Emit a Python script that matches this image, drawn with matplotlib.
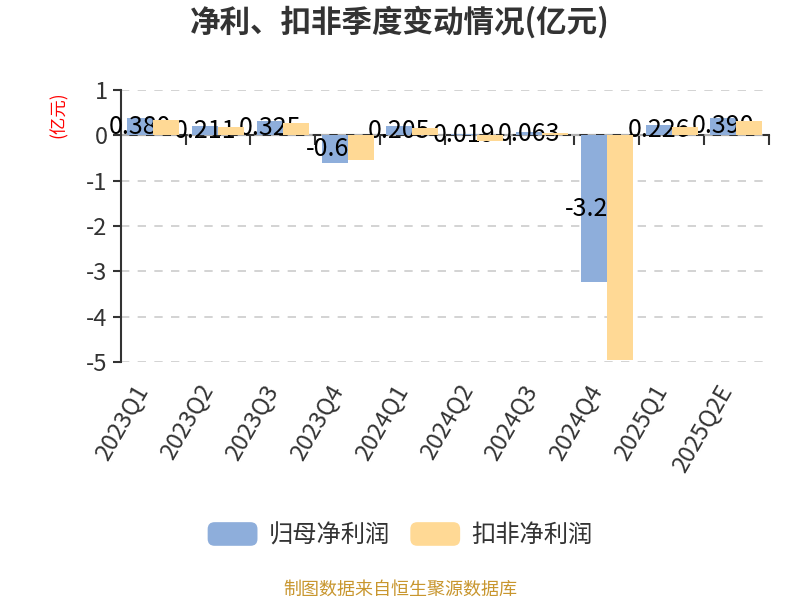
import matplotlib
matplotlib.use("Agg")
import matplotlib.pyplot as plt
import matplotlib.transforms as mtransforms
import numpy as np
from matplotlib.patches import FancyBboxPatch, Rectangle
from matplotlib.legend_handler import HandlerPatch

plt.rcParams['font.family'] = ['Noto Sans CJK SC', 'DejaVu Sans']
plt.rcParams['axes.unicode_minus'] = False

quarters = ['2023Q1', '2023Q2', '2023Q3', '2023Q4', '2024Q1',
            '2024Q2', '2024Q3', '2024Q4', '2025Q1', '2025Q2E']
net_profit = [0.380, 0.211, 0.325, -0.61, 0.205, 0.019, 0.063, -3.24, 0.226, 0.390]
net_labels = ['0.380', '0.211', '0.325', '-0.61', '0.205', '0.019', '0.063', '-3.24', '0.226', '0.390']
deducted_profit = [0.33, 0.18, 0.28, -0.54, 0.17, -0.13, 0.06, -4.95, 0.18, 0.32]

blue = '#8eaedb'
orange = '#ffd995'
dark = '#333333'

fig = plt.figure(figsize=(8, 6), dpi=100)
ax = fig.add_axes([0.151, 0.397, 0.81, 0.453])

x = np.arange(len(quarters))
w = 0.4
b1 = ax.bar(x - w / 2, net_profit, w, color=blue, zorder=2)
for xi, v, s in zip(x, net_profit, net_labels):
    ax.text(xi - w / 2, v / 2, s, ha='center', va='center', fontsize=18,
            color='black', zorder=3)
b2 = ax.bar(x + w / 2, deducted_profit, w, color=orange, zorder=4)

ax.set_xlim(-0.5, len(quarters) - 0.5)
ax.set_ylim(-5, 1)
ax.set_yticks(range(-5, 2))
ax.yaxis.grid(True, linestyle=(0, (5, 5)), color='#cccccc', linewidth=1.2, zorder=0)
ax.tick_params(axis='y', labelsize=17, labelcolor=dark, color=dark, length=6, width=1.5)

# category labels at the bottom, no tick marks
ax.set_xticks(x)
ax.set_xticklabels(quarters, rotation=60, ha='right', va='top',
                   rotation_mode='anchor', fontsize=17, color=dark)
ax.tick_params(axis='x', length=0, pad=12)
shift = mtransforms.ScaledTranslation(-20 / 100, -2 / 100, fig.dpi_scale_trans)
for lab in ax.get_xticklabels():
    lab.set_transform(lab.get_transform() + shift)

for sp in ['top', 'right', 'bottom']:
    ax.spines[sp].set_visible(False)
ax.spines['left'].set_color(dark)
ax.spines['left'].set_linewidth(1.5)

# zero axis line with boundary ticks
zero_ax = ax.secondary_xaxis(0, transform=ax.transData)
zero_ax.set_xticks(np.arange(len(quarters)) + 0.5)
zero_ax.set_xticklabels([])
zero_ax.tick_params(axis='x', length=7, width=1.5, color=dark)
zero_ax.spines['bottom'].set_color(dark)
zero_ax.spines['bottom'].set_linewidth(1.5)

ax.text(-0.096, 0.908, '(亿元)', transform=ax.transAxes, rotation=90,
        ha='center', va='center', fontsize=12.5, color='red')


def round_patch(legend, orig_handle, xdescent, ydescent, width, height, fontsize):
    return FancyBboxPatch((-xdescent, -ydescent), width, height,
                          boxstyle='round,pad=0,rounding_size=5',
                          fc=orig_handle.get_facecolor(), ec='none')


fig.legend(handles=[b1.patches[0], b2.patches[0]], labels=['归母净利润', '扣非净利润'],
           loc='center', bbox_to_anchor=(0.5, 0.108),
           ncol=2, frameon=False, fontsize=17.5, handlelength=2.05, handleheight=1.12,
           handletextpad=0.45, columnspacing=0.85, labelcolor=dark,
           handler_map={Rectangle: HandlerPatch(patch_func=round_patch)})

fig.text(0.5, 0.962, '净利、扣非季度变动情况(亿元)', ha='center', va='center',
         fontsize=22, fontweight='bold', color=dark)
fig.text(0.5, 0.018, '制图数据来自恒生聚源数据库', ha='center', va='center',
         fontsize=13, color='#c8962e')

fig.savefig('out.png', dpi=100)
